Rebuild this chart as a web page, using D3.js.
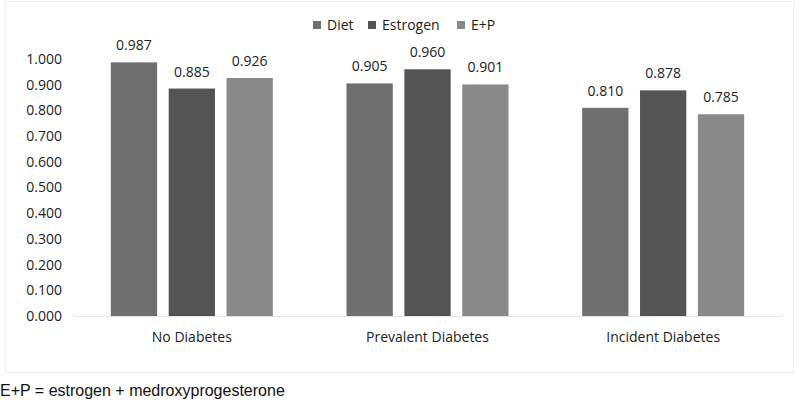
<html>
<head>
  <meta charset="utf8">
  <title>Diabetes bars</title>
  <style>
  * { margin: 0; padding: 0; }
  body { background: #fff; }
  </style>
</head>
<body>
  <script src="https://cdn.jsdelivr.net/npm/d3@7"></script>
  <script>
  //Data
  var groups = ["No Diabetes", "Prevalent Diabetes", "Incident Diabetes"];
  var seriesNames = ["Diet", "Estrogen", "E+P"];
  var diet = [0.987, 0.905, 0.810];
  var estrogen = [0.885, 0.960, 0.878];
  var eplusp = [0.926, 0.901, 0.785];
  var yTicks = [0, 0.1, 0.2, 0.3, 0.4, 0.5, 0.6, 0.7, 0.8, 0.9, 1.0];
  var footnote = "E+P = estrogen + medroxyprogesterone";

  var allSeries = [diet, estrogen, eplusp];
  var colors = ["#6f6f6f", "#545454", "#898989"];

  //Size
  var w = 800;
  var h = 400;
  var plotLeft = 74, plotRight = 781, plotTop = 59, plotBottom = 316;
  var labelFont = "Open Sans, sans-serif";

  var svg = d3.select("body")
    .append("svg")
    .attr("width", w)
    .attr("height", h);

  //Chart frame
  svg.append("rect")
    .attr("x", 5.5).attr("y", 1.5)
    .attr("width", 788).attr("height", 371)
    .attr("fill", "none")
    .attr("stroke", "#efefef");

  //Scales
  var x0 = d3.scaleBand()
    .domain(groups)
    .range([plotLeft, plotRight]);
  var x1 = d3.scaleBand()
    .domain(seriesNames)
    .range([0, 162])
    .paddingInner(0.2);
  var yScale = d3.scaleLinear()
    .domain([0, 1])
    .range([plotBottom, plotTop]);

  //Y axis
  var yAxis = d3.axisLeft(yScale)
    .tickValues(yTicks)
    .tickFormat(d3.format(".3f"))
    .tickSize(0)
    .tickPadding(12);
  var gy = svg.append("g")
    .attr("transform", "translate(" + plotLeft + ",0)")
    .call(yAxis);
  gy.select(".domain").remove();
  gy.selectAll("text")
    .attr("font-family", labelFont)
    .attr("font-size", 14)
    .attr("fill", "#222");

  //X axis
  var xAxis = d3.axisBottom(x0).tickSize(0).tickPadding(16);
  var gx = svg.append("g")
    .attr("transform", "translate(0," + plotBottom + ")")
    .call(xAxis);
  gx.select(".domain").attr("stroke", "#e4e4e4");
  gx.selectAll("text")
    .attr("font-family", labelFont)
    .attr("font-size", 14)
    .attr("fill", "#222");

  //Bars
  var groupG = svg.selectAll(".grp")
    .data(groups)
    .enter()
    .append("g")
    .attr("class", "grp")
    .attr("transform", function(d) {
      return "translate(" + (x0(d) + x0.bandwidth() / 2 - 81) + ",0)";
    });

  groupG.each(function(g, gi) {
    var sel = d3.select(this);
    var rows = seriesNames.map(function(s, si) {
      return { name: s, value: allSeries[si][gi], color: colors[si] };
    });
    sel.selectAll("rect")
      .data(rows)
      .enter()
      .append("rect")
      .attr("x", function(d) { return x1(d.name); })
      .attr("y", function(d) { return yScale(d.value); })
      .attr("width", x1.bandwidth())
      .attr("height", function(d) { return plotBottom - yScale(d.value); })
      .attr("fill", function(d) { return d.color; });
    sel.selectAll("text")
      .data(rows)
      .enter()
      .append("text")
      .attr("x", function(d) { return x1(d.name) + x1.bandwidth() / 2; })
      .attr("y", function(d) { return yScale(d.value) - 12; })
      .attr("text-anchor", "middle")
      .attr("font-family", labelFont)
      .attr("font-size", 14)
      .attr("fill", "#222")
      .text(function(d) { return d3.format(".3f")(d.value); });
  });

  //Legend
  var legendX = [313, 368, 457];
  var legend = svg.selectAll(".leg")
    .data(seriesNames)
    .enter()
    .append("g")
    .attr("class", "leg")
    .attr("transform", function(d, i) { return "translate(" + legendX[i] + ",20)"; });
  legend.append("rect")
    .attr("y", 1)
    .attr("width", 8).attr("height", 8)
    .attr("fill", function(d, i) { return colors[i]; });
  legend.append("text")
    .attr("x", 14).attr("y", 10)
    .attr("font-family", labelFont)
    .attr("font-size", 14)
    .attr("fill", "#222")
    .text(function(d) { return d; });

  //Footnote
  svg.append("text")
    .attr("x", 0).attr("y", 396)
    .attr("font-family", "Liberation Sans, Arial, sans-serif")
    .attr("font-size", 16)
    .attr("fill", "#111")
    .text(footnote);
  </script>
</body>
</html>
